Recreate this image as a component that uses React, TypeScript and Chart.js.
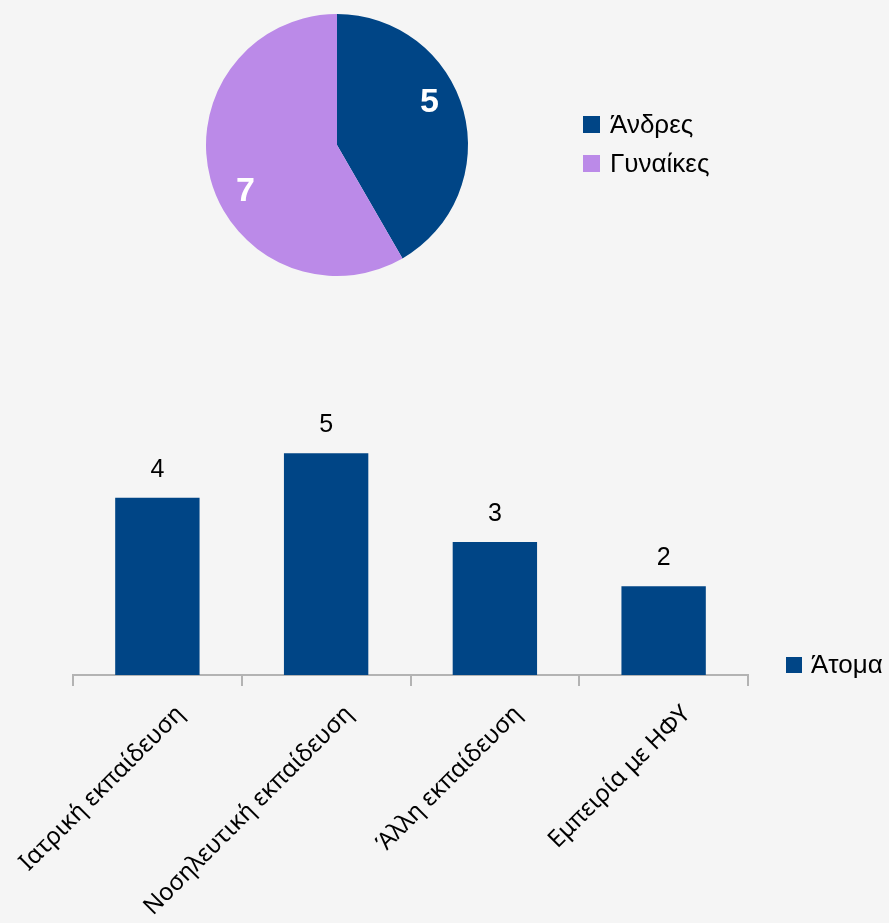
import React, { useEffect, useRef } from "react";
import { Chart, registerables } from "chart.js";

Chart.register(...registerables);

// ---- data ----
const genderLabels = ["Άνδρες", "Γυναίκες"];
const genderValues = [5, 7];
const genderColors = ["#004586", "#bb8ae8"];

const trainingLabels = [
  "Ιατρική εκπαίδευση",
  "Νοσηλευτική εκπαίδευση",
  "Άλλη εκπαίδευση",
  "Εμπειρία με ΗΦΥ",
];
const trainingValues = [4, 5, 3, 2];
const trainingSeries = "Άτομα";
const barColor = "#004586";

const W = 889;
const PIE_H = 290;
const BAR_TOP = 380;
const BAR_H = 923 - BAR_TOP;

const SANS = '"Liberation Sans", Arial, sans-serif';

const pieDecor = {
  id: "pieDecor",
  afterDatasetsDraw(chart: any) {
    const ctx = chart.ctx;
    const meta = chart.getDatasetMeta(0);
    ctx.save();
    ctx.fillStyle = "#ffffff";
    ctx.font = `bold 34px ${SANS}`;
    ctx.textAlign = "center";
    ctx.textBaseline = "middle";
    meta.data.forEach((arc: any, i: number) => {
      const p = arc.getProps(["x", "y", "startAngle", "endAngle", "outerRadius"], true);
      const a = p.startAngle + 0.44 * (p.endAngle - p.startAngle);
      const r = 0.78 * p.outerRadius;
      ctx.fillText(String(genderValues[i]), p.x + r * Math.cos(a) - 1, p.y + r * Math.sin(a) - 1);
    });
    // legend
    const area = chart.chartArea;
    const lx = area.right + 115;
    const cy0 = (area.top + area.bottom) / 2 - 20;
    ctx.font = `26px ${SANS}`;
    ctx.textAlign = "left";
    genderLabels.forEach((lab, i) => {
      const cy = cy0 + i * 39;
      ctx.fillStyle = genderColors[i];
      ctx.fillRect(lx, cy - 9, 17, 17);
      ctx.fillStyle = "#000000";
      ctx.fillText(lab, lx + 27, cy + 1);
    });
    ctx.restore();
  },
};

const barDecor = {
  id: "barDecor",
  afterDatasetsDraw(chart: any) {
    const ctx = chart.ctx;
    const meta = chart.getDatasetMeta(0);
    ctx.save();
    ctx.fillStyle = "#000000";
    ctx.font = `25px ${SANS}`;
    ctx.textAlign = "center";
    ctx.textBaseline = "middle";
    meta.data.forEach((bar: any, i: number) => {
      ctx.fillText(String(trainingValues[i]), bar.x, bar.y - 28);
    });
    const area = chart.chartArea;
    const lx = area.right + 38;
    const cy = area.bottom - 10;
    ctx.fillStyle = barColor;
    ctx.fillRect(lx, cy - 8, 16, 16);
    ctx.fillStyle = "#000000";
    ctx.font = `26px ${SANS}`;
    ctx.textAlign = "left";
    ctx.fillText(trainingSeries, lx + 25, cy + 1);
    ctx.restore();
  },
};

export default function App() {
  const pieRef = useRef<HTMLCanvasElement>(null);
  const barRef = useRef<HTMLCanvasElement>(null);

  useEffect(() => {
    const pie = new Chart(pieRef.current as HTMLCanvasElement, {
      type: "pie",
      data: {
        labels: genderLabels,
        datasets: [
          {
            data: genderValues,
            backgroundColor: genderColors,
            borderWidth: 0,
          },
        ],
      },
      options: {
        animation: false,
        responsive: false,
        maintainAspectRatio: false,
        layout: { padding: { left: 206, right: W - 468, top: 14, bottom: 14 } },
        plugins: { legend: { display: false }, tooltip: { enabled: false } },
      },
      plugins: [pieDecor],
    } as any);

    const bar = new Chart(barRef.current as HTMLCanvasElement, {
      type: "bar",
      data: {
        labels: trainingLabels,
        datasets: [
          {
            label: trainingSeries,
            data: trainingValues,
            backgroundColor: barColor,
            borderWidth: 0,
            barPercentage: 0.5,
            categoryPercentage: 1,
          },
        ],
      },
      options: {
        animation: false,
        responsive: false,
        maintainAspectRatio: false,
        layout: { padding: { left: 73, right: W - 748, top: 29, bottom: 0 } },
        plugins: { legend: { display: false }, tooltip: { enabled: false } },
        scales: {
          y: { display: false, min: 0, max: 6 },
          x: {
            offset: true,
            grid: {
              offset: true,
              drawOnChartArea: false,
              drawTicks: true,
              tickLength: 11,
              color: "#b3b3b3",
              lineWidth: 2,
            },
            border: { display: true, color: "#b3b3b3", width: 2 },
            ticks: {
              minRotation: 45,
              maxRotation: 45,
              autoSkip: false,
              color: "#000000",
              padding: 14,
              labelOffset: 23,
              font: { family: '"Noto Sans", "Open Sans", sans-serif', size: 24 },
            },
            afterFit(scale: any) {
              scale.height = 248;
              scale.paddingLeft = 0;
              scale.paddingRight = 0;
            },
          },
        },
      },
      plugins: [barDecor],
    } as any);

    return () => {
      pie.destroy();
      bar.destroy();
    };
  }, []);

  return (
    <div
      style={{
        position: "absolute",
        left: 0,
        top: 0,
        width: W,
        height: 923,
        background: "#f5f5f5",
        overflow: "hidden",
      }}
    >
      <canvas
        ref={pieRef}
        width={W}
        height={PIE_H}
        style={{ position: "absolute", left: 0, top: 0, width: W, height: PIE_H }}
      />
      <canvas
        ref={barRef}
        width={W}
        height={BAR_H}
        style={{ position: "absolute", left: 0, top: BAR_TOP, width: W, height: BAR_H }}
      />
    </div>
  );
}
